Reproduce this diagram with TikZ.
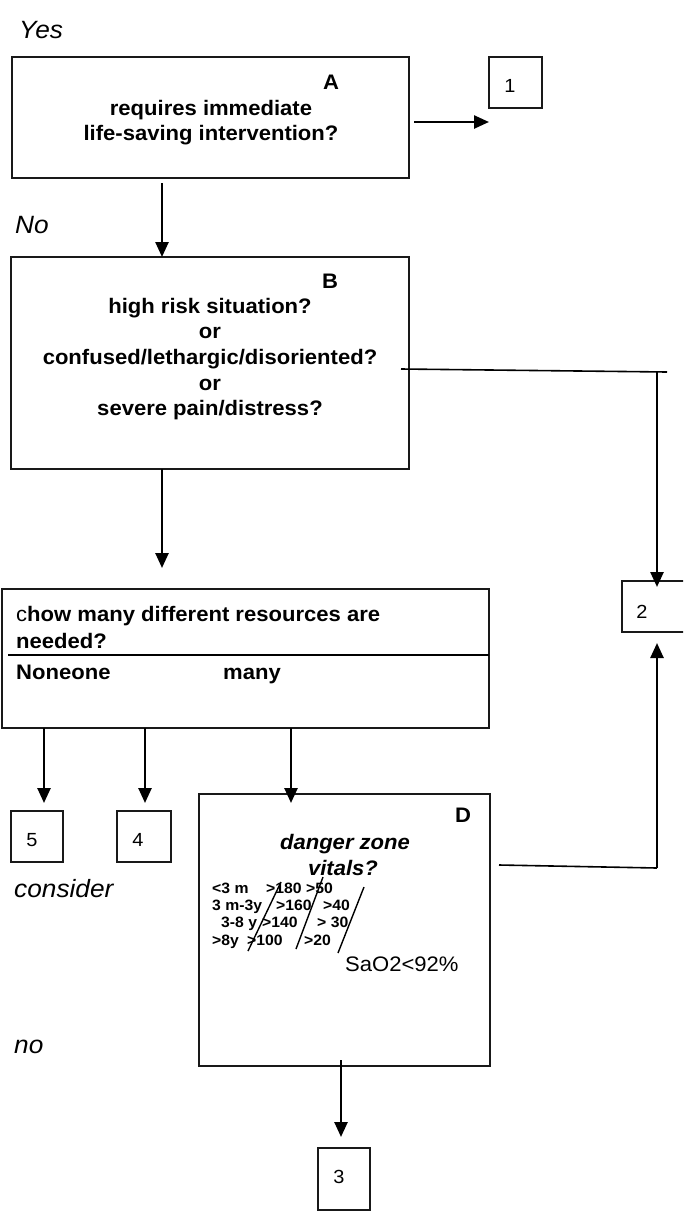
\documentclass[tikz,border=0pt]{standalone}
\usepackage{fontspec}
\setmainfont[FakeStretch=1.05]{Liberation Sans}
\usetikzlibrary{arrows.meta}
\tikzset{
  box/.style={draw=black!90, line width=1.5pt, inner sep=0pt, outer sep=0pt},
  arr/.style={line width=2.5pt, -{Triangle[length=15pt,width=13pt]}},
  thinline/.style={line width=1.6pt},
  q/.style={font=\bfseries\fontsize{21}{25.7}\selectfont, align=center, inner sep=0pt},
  qi/.style={font=\bfseries\itshape\fontsize{21}{25}\selectfont, inner sep=0pt, anchor=base},
  lbl/.style={font=\itshape\fontsize{25}{28}\selectfont, inner sep=0pt, anchor=west},
  num/.style={font=\fontsize{19}{21}\selectfont, inner sep=0pt},
  tab/.style={font=\bfseries\fontsize{15}{16}\selectfont, inner sep=0pt, anchor=base west},
  slash/.style={line width=1.4pt},
}
\begin{document}
\begin{tikzpicture}[x=1pt,y=-1pt]
\clip (0,0) rectangle (683,1213);
\fill[white] (0,0) rectangle (683,1213);

% boxes
\node[box, minimum width=397pt, minimum height=121pt] (A) at (210.5,117.5) {};
\node[box, minimum width=53pt, minimum height=51pt] (b1) at (515.5,82.5) {};
\node[box, minimum width=398pt, minimum height=212pt] (B) at (210,363) {};
\node[box, minimum width=68pt, minimum height=51pt] (b2) at (656,606.5) {};
\node[box, minimum width=487pt, minimum height=139pt] (C) at (245.5,658.5) {};
\node[box, minimum width=52pt, minimum height=51pt] (b5) at (37,836.5) {};
\node[box, minimum width=54pt, minimum height=51pt] (b4) at (144,836.5) {};
\node[box, minimum width=291pt, minimum height=272pt] (D) at (344.5,930) {};
\node[box, minimum width=52pt, minimum height=62pt] (b3) at (344,1179) {};

% numbers
\node[num] (n1) at (510,86) {1};
\node[num] (n2) at (642,612) {2};
\node[num] (n5) at (32,840) {5};
\node[num] (n4) at (138,840) {4};
\node[num] (n3) at (339,1177) {3};

% side labels
\node[lbl] (yes) at (19,30) {Yes};
\node[lbl] (no1) at (15,225) {No};
\node[lbl] (cons) at (14,889) {consider};
\node[lbl] (no2) at (14,1047) {no};

% box A
\node[q] (Al) at (331,82) {A};
\node[q] (Aq) at (211,122.5) {requires immediate\\life-saving intervention?};

% box B
\node[q] (Bl) at (330,281) {B};
\node[q] (Bq) at (210,359) {high risk situation?\\or\\confused/lethargic/disoriented?\\or\\severe pain/distress?};

% box C
\node[q, anchor=base west] (Cq1) at (16,621) {{\mdseries c}how many different resources are};
\node[q, anchor=base west] (Cq2) at (16,648) {needed?};
\node[q, anchor=base west] (Cn) at (16,679) {Noneone};
\node[q, anchor=base west] (Cm) at (223,679) {many};
\coordinate (cdiv) at (8,655);
\draw[thinline] (cdiv) -- (cdiv -| C.east);

% box D
\node[q] (Dl) at (463,815) {D};
\node[qi] (dz) at (345,849) {danger zone};
\node[qi] (vit) at (343,875) {vitals?};
\node[tab] (r1a) at (212,893) {<3 m};
\node[tab] (r1b) at (266,893) {>180};
\node[tab] (r1c) at (306,893) {>50};
\node[tab] (r2a) at (212,910) {3 m-3y};
\node[tab] (r2b) at (276,910) {>160};
\node[tab] (r2c) at (323,910) {>40};
\node[tab] (r3a) at (221,927) {3-8 y};
\node[tab] (r3b) at (262,927) {>140};
\node[tab] (r3c) at (317,927) {> 30};
\node[tab] (r4a) at (212,945) {>8y};
\node[tab] (r4b) at (247,945) {>100};
\node[tab] (r4c) at (304,945) {>20};
\node[font=\fontsize{21}{23}\selectfont, inner sep=0pt, anchor=base west] (sao) at (345,971) {SaO2<92\%};
\draw[slash] (248,951) -- (281,882);
\draw[slash] (296,949) -- (323,877);
\draw[slash] (338,953) -- (364,887);

% connectors
\coordinate (ya1) at (0,122);
\draw[arr, shorten <=5pt] (A.east |- ya1) -- (b1.west |- ya1);

\coordinate (xab) at (162,0);
\draw[arr, shorten <=5pt] (A.south -| xab) -- (B.north -| xab);
\draw[arr, shorten >=21pt] (B.south -| xab) -- (C.north -| xab);

\coordinate (bL) at (401,369);
\coordinate (bR) at (667,372);
\coordinate (bC) at (657,372);
\draw[thinline] (bL) -- (bR);
\draw[arr, shorten >=-6pt] (bC) -- (b2.north -| bC);

\coordinate (dL) at (499,865);
\coordinate (dC) at (657,868);
\draw[thinline] (dL) -- (dC);
\draw[arr, shorten >=11pt] (dC) -- (b2.south -| dC);

\coordinate (x5) at (44,0);
\coordinate (x4) at (145,0);
\coordinate (xd) at (291,0);
\draw[arr, shorten >=8pt] (C.south -| x5) -- (b5.north -| x5);
\draw[arr, shorten >=8pt] (C.south -| x4) -- (b4.north -| x4);
\draw[arr, shorten >=-9pt] (C.south -| xd) -- (D.north -| xd);

\coordinate (x3) at (341,0);
\draw[arr, shorten <=-6pt, shorten >=11pt] (D.south -| x3) -- (b3.north -| x3);
\end{tikzpicture}
\end{document}
